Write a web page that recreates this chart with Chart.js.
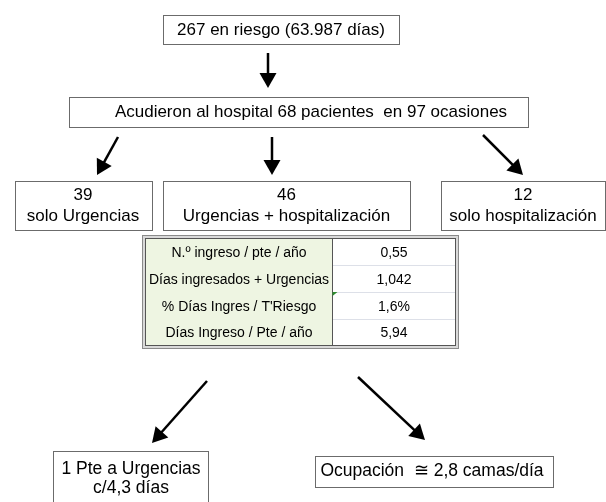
<!DOCTYPE html>
<html>
<head>
<meta charset="utf-8">
<script src="https://cdn.jsdelivr.net/npm/chart.js@4/dist/chart.umd.min.js"></script>
<style>
  html, body { margin: 0; padding: 0; background: #fff; }
  #flow { display: block; }
</style>
</head>
<body>
<canvas id="flow" width="606" height="502"></canvas>
<script>
/* ---------- DATA ---------- */
const enRiesgo        = ["267", "63.987"];                  // pacientes, días
const acudieron       = ["68", "97"];                       // pacientes, ocasiones
const grupos          = ["solo Urgencias", "Urgencias + hospitalización", "solo hospitalización"];
const gruposPacientes = ["39", "46", "12"];
const indicadores     = ["N.º ingreso / pte / año", "Días ingresados + Urgencias",
                         "% Días Ingres / T'Riesgo", "Días Ingreso / Pte / año"];
const indicadoresVal  = ["0,55", "1,042", "1,6%", "5,94"];
const resultadoUrg    = ["1 Pte a Urgencias", "c/4,3 días"];
const resultadoCamas  = ["Ocupación  ≅ 2,8 camas/día"];

/* ---------- LAYOUT (scale units) ---------- */
const LAYOUT = {
    top:    { x0: 163, x1: 399, y0: 15, y1: 44, tx: 281, ty: 30 },
    second: { x0: 69, x1: 528, y0: 97, y1: 127, tx: 311, ty: 112 },
    groups: [
        { x0: 15,  x1: 152, tx: 83 },
        { x0: 163, x1: 410, tx: 286.5 },
        { x0: 441, x1: 605, tx: 523 }
    ],
    groupY: { y0: 181, y1: 230, l1: 195, l2: 216 },
    table: { x0: 142, x1: 458, y0: 235, y1: 348, in: 3, div: 332 },
    leftRes:  { x0: 53, x1: 208, y0: 451, y1: 520, tx: 131, l1: 469, l2: 488 },
    rightRes: { x0: 315, x1: 553, y0: 456, y1: 487, tx: 432, ty: 471 },
    arrows: [
        [268, 53, 268, 88],
        [118, 137, 97, 175],
        [272, 137, 272, 175],
        [483, 135, 523, 175],
        [207, 381, 152, 443],
        [358, 377, 425, 440]
    ]
};

const FONT = "Liberation Sans, Arial, Helvetica, sans-serif";

const flowPlugin = {
    id: "flowchart",
    afterDraw(chart) {
        const ctx = chart.ctx;
        const sx = v => chart.scales.x.getPixelForValue(v);
        const sy = v => chart.scales.y.getPixelForValue(v);

        const box = (b, stroke) => {
            ctx.save();
            ctx.fillStyle = "#fff";
            ctx.strokeStyle = stroke || "#6b6b6b";
            ctx.lineWidth = 1;
            const x = Math.round(sx(b.x0)) + 0.5, y = Math.round(sy(b.y0)) + 0.5;
            const w = Math.round(sx(b.x1) - sx(b.x0)), h = Math.round(sy(b.y1) - sy(b.y0));
            ctx.fillRect(x, y, w, h);
            ctx.strokeRect(x, y, w, h);
            ctx.restore();
        };
        const text = (t, x, y, size) => {
            ctx.save();
            ctx.fillStyle = "#000";
            ctx.font = size + "px " + FONT;
            ctx.textAlign = "center";
            ctx.textBaseline = "middle";
            ctx.fillText(t, sx(x), sy(y));
            ctx.restore();
        };
        const arrow = (a) => {
            const x1 = sx(a[0]), y1 = sy(a[1]), x2 = sx(a[2]), y2 = sy(a[3]);
            const ang = Math.atan2(y2 - y1, x2 - x1);
            const hl = 15, hw = 8.5;
            const bx = x2 - hl * Math.cos(ang), by = y2 - hl * Math.sin(ang);
            ctx.save();
            ctx.strokeStyle = "#000";
            ctx.fillStyle = "#000";
            ctx.lineWidth = 2.5;
            ctx.beginPath();
            ctx.moveTo(x1, y1);
            ctx.lineTo(bx + 2 * Math.cos(ang), by + 2 * Math.sin(ang));
            ctx.stroke();
            ctx.beginPath();
            ctx.moveTo(x2, y2);
            ctx.lineTo(bx + hw * Math.sin(ang), by - hw * Math.cos(ang));
            ctx.lineTo(bx - hw * Math.sin(ang), by + hw * Math.cos(ang));
            ctx.closePath();
            ctx.fill();
            ctx.restore();
        };

        const L = LAYOUT;

        // top box
        box(L.top);
        text(enRiesgo[0] + " en riesgo (" + enRiesgo[1] + " días)", L.top.tx, L.top.ty, 17);

        // second box
        box(L.second);
        text("Acudieron al hospital " + acudieron[0] + " pacientes  en " + acudieron[1] + " ocasiones",
             L.second.tx, L.second.ty, 17);

        // group boxes
        L.groups.forEach((g, i) => {
            box({ x0: g.x0, x1: g.x1, y0: L.groupY.y0, y1: L.groupY.y1 });
            text(gruposPacientes[i], g.tx, L.groupY.l1, 17);
            text(grupos[i], g.tx, L.groupY.l2, 17);
        });

        // table
        const T = L.table;
        ctx.save();
        const ox = Math.round(sx(T.x0)) + 0.5, oy = Math.round(sy(T.y0)) + 0.5;
        const ow = Math.round(sx(T.x1) - sx(T.x0)), oh = Math.round(sy(T.y1) - sy(T.y0));
        const ix = ox + T.in, iy = oy + T.in, iw = ow - 2 * T.in, ih = oh - 2 * T.in;
        const dx = Math.round(sx(T.div)) + 0.5;
        ctx.fillStyle = "#d9d9d9";
        ctx.fillRect(ox, oy, ow, oh);
        ctx.fillStyle = "#fff";
        ctx.fillRect(ix, iy, iw, ih);
        ctx.fillStyle = "#eef5e2";
        ctx.fillRect(ix, iy, dx - ix, ih);
        const rows = indicadores.length;
        const rh = ih / rows;
        ctx.strokeStyle = "#dde0e8";
        ctx.lineWidth = 1;
        for (let r = 1; r < rows; r++) {
            const yy = Math.round(iy + r * rh) + 0.5;
            ctx.beginPath();
            ctx.moveTo(dx, yy);
            ctx.lineTo(ix + iw, yy);
            ctx.stroke();
        }
        ctx.strokeStyle = "#8a8a8a";
        ctx.strokeRect(ox, oy, ow, oh);
        ctx.strokeStyle = "#555";
        ctx.strokeRect(ix, iy, iw, ih);
        ctx.beginPath();
        ctx.moveTo(dx, iy);
        ctx.lineTo(dx, iy + ih);
        ctx.stroke();
        // comment marker
        const my = Math.round(iy + 2 * rh);
        ctx.fillStyle = "#2e8b2e";
        ctx.beginPath();
        ctx.moveTo(dx, my);
        ctx.lineTo(dx + 5, my);
        ctx.lineTo(dx, my + 4);
        ctx.closePath();
        ctx.fill();
        ctx.restore();
        const lx = chart.scales.x.getValueForPixel((ix + dx) / 2);
        const vx = chart.scales.x.getValueForPixel((dx + ix + iw) / 2);
        indicadores.forEach((lab, r) => {
            const cy = chart.scales.y.getValueForPixel(iy + (r + 0.5) * rh) + 1.5;
            text(lab, lx, cy, 14);
            text(indicadoresVal[r], vx, cy, 14);
        });

        // result boxes
        box(L.leftRes);
        text(resultadoUrg[0], L.leftRes.tx, L.leftRes.l1, 17.5);
        text(resultadoUrg[1], L.leftRes.tx, L.leftRes.l2, 17.5);
        box(L.rightRes);
        text(resultadoCamas[0], L.rightRes.tx, L.rightRes.ty, 17.5);

        // arrows
        L.arrows.forEach(arrow);
    }
};

new Chart(document.getElementById("flow"), {
    type: "scatter",
    data: { datasets: [{ data: [], pointRadius: 0 }] },
    options: {
        responsive: false,
        animation: false,
        layout: { padding: 0 },
        scales: {
            x: { type: "linear", min: 0, max: 606, display: false },
            y: { type: "linear", min: 0, max: 502, reverse: true, display: false }
        },
        plugins: { legend: { display: false }, tooltip: { enabled: false } }
    },
    plugins: [flowPlugin]
});
</script>
</body>
</html>
